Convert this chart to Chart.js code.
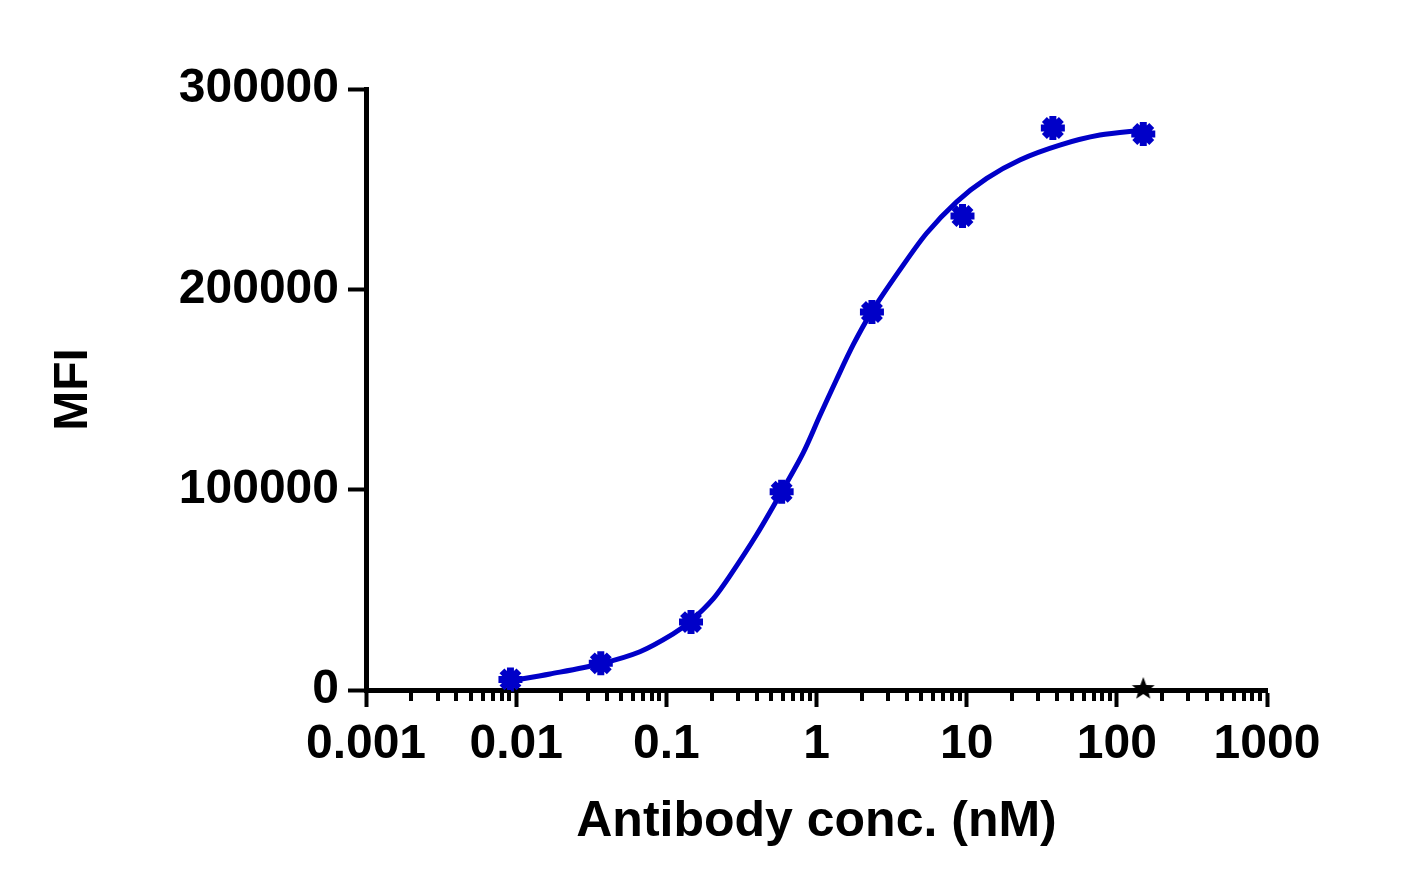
<!DOCTYPE html>
<html>
<head>
<meta charset="utf-8">
<script src="https://cdn.jsdelivr.net/npm/chart.js@4.4.1/dist/chart.umd.min.js"></script>
<style>
  html, body { margin: 0; padding: 0; background: #fff; }
  #chart { display: block; }
</style>
</head>
<body>
<canvas id="chart" width="1421" height="892"></canvas>
<script>
// measured points (antibody, 4-fold dilution)
var concentrations = [0.00916, 0.0366, 0.146, 0.586, 2.34, 9.38, 37.5, 150];
var mfiValues      = [5300, 13300, 33900, 99000, 188700, 236600, 280500, 277500];

// fitted curve
var fitConc = [0.00916, 0.0168, 0.0361, 0.0667, 0.111, 0.146, 0.205, 0.265, 0.399, 0.586, 0.817,
               1.054, 1.36, 1.76, 2.34, 3.59, 5.41, 8.57, 13.6, 22.6, 41.7, 77.1, 150];
var fitMfi  = [4500, 8000, 13000, 19100, 28000, 34600, 45500, 57000, 77500, 99000, 118500,
               137000, 155000, 172500, 189000, 209700, 228000, 243700, 255400, 264600, 272000, 277000, 279500];

// control point (black star)
var controlConc = [150];
var controlMfi  = [1000];

var xTickValues = [0.001, 0.01, 0.1, 1, 10, 100, 1000];
var xTickLabels = ['0.001', '0.01', '0.1', '1', '10', '100', '1000'];
var yTickValues = [0, 100000, 200000, 300000];
var yTickLabels = ['0', '100000', '200000', '300000'];

var blue = '#0000c8';
var fontFamily = 'Liberation Sans, Arial, sans-serif';
var tickFont = { family: fontFamily, size: 48, weight: 'bold' };
var titleFont = { family: fontFamily, size: 50, weight: 'bold' };

function toXY(xs, ys) {
  return xs.map(function (x, i) { return { x: x, y: ys[i] }; });
}

// filled five-point star for the control marker
function makeStar(size) {
  var c = document.createElement('canvas');
  c.width = size; c.height = size;
  var g = c.getContext('2d');
  var cx = size / 2, cy = size / 2 + 1, ro = size / 2, ri = ro * 0.42;
  g.beginPath();
  for (var i = 0; i < 10; i++) {
    var r = i % 2 ? ri : ro;
    var a = -Math.PI / 2 + i * Math.PI / 5;
    g.lineTo(cx + r * Math.cos(a), cy + r * Math.sin(a));
  }
  g.closePath();
  g.fillStyle = '#000';
  g.fill();
  return c;
}

// minor ticks 2..9 on the log axis (shorter than major ones)
var minorTicks = {
  id: 'minorTicks',
  afterDraw: function (chart) {
    var scale = chart.scales.x;
    var ctx = chart.ctx;
    var y0 = chart.chartArea.bottom;
    ctx.save();
    ctx.strokeStyle = '#000';
    ctx.lineWidth = 4;
    for (var i = 0; i < xTickValues.length - 1; i++) {
      for (var k = 2; k < 10; k++) {
        var px = Math.round(scale.getPixelForValue(xTickValues[i] * k));
        ctx.beginPath();
        ctx.moveTo(px, y0);
        ctx.lineTo(px, y0 + 11);
        ctx.stroke();
      }
    }
    ctx.restore();
  }
};

var ctx = document.getElementById('chart').getContext('2d');
var chart = new Chart(ctx, {
  type: 'scatter',
  data: {
    datasets: [
      {
        label: 'Antibody',
        data: toXY(concentrations, mfiValues),
        pointStyle: 'star',
        pointRadius: 12,
        pointBorderWidth: 7,
        borderColor: blue,
        backgroundColor: blue,
        showLine: false,
        clip: false
      },
      {
        label: 'Control',
        data: toXY(controlConc, controlMfi),
        pointStyle: makeStar(24),
        pointRadius: 12,
        showLine: false,
        clip: false
      },
      {
        label: 'Fit',
        data: toXY(fitConc, fitMfi),
        showLine: true,
        borderColor: blue,
        borderWidth: 5,
        pointRadius: 0,
        tension: 0.3,
        clip: false
      }
    ]
  },
  options: {
    responsive: false,
    animation: false,
    devicePixelRatio: 1,
    layout: { padding: { left: 0, right: 154, top: 89, bottom: 0 } },
    plugins: {
      legend: { display: false },
      tooltip: { enabled: false }
    },
    scales: {
      x: {
        type: 'logarithmic',
        min: 0.001,
        max: 1000,
        afterBuildTicks: function (scale) {
          scale.ticks = xTickValues.map(function (v) { return { value: v }; });
        },
        afterFit: function (scale) { scale.height = 202; },
        grid: {
          display: true,
          drawOnChartArea: false,
          tickLength: 17,
          tickWidth: 4,
          tickColor: '#000'
        },
        border: { display: true, color: '#000', width: 5 },
        ticks: {
          color: '#000',
          font: tickFont,
          padding: 9,
          maxRotation: 0,
          autoSkip: false,
          callback: function (value) {
            var i = xTickValues.indexOf(value);
            return i >= 0 ? xTickLabels[i] : '';
          }
        },
        title: {
          display: true,
          text: 'Antibody conc. (nM)',
          color: '#000',
          font: titleFont,
          padding: { top: 0, bottom: 40 }
        }
      },
      y: {
        min: 0,
        max: 300000,
        afterBuildTicks: function (scale) {
          scale.ticks = yTickValues.map(function (v) { return { value: v }; });
        },
        afterFit: function (scale) { scale.width = 366; },
        grid: {
          display: true,
          drawOnChartArea: false,
          tickLength: 18,
          tickWidth: 4,
          tickColor: '#000'
        },
        border: { display: true, color: '#000', width: 5 },
        ticks: {
          color: '#000',
          font: tickFont,
          padding: 9,
          callback: function (value) {
            var i = yTickValues.indexOf(value);
            return i >= 0 ? yTickLabels[i] : '';
          }
        },
        title: {
          display: true,
          text: 'MFI',
          color: '#000',
          font: { family: fontFamily, size: 48, weight: 'bold' },
          padding: { top: 45, bottom: 0 }
        }
      }
    }
  },
  plugins: [minorTicks]
});
</script>
</body>
</html>
